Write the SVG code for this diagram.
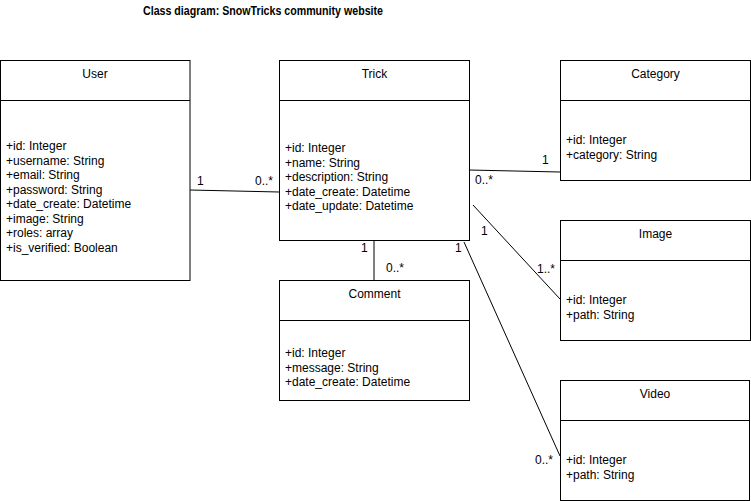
<svg xmlns="http://www.w3.org/2000/svg" width="751" height="501" viewBox="0 0 751 501">
<style>
text{font-family:"Liberation Sans",Arial,Helvetica,sans-serif;font-size:12px;fill:#000}
.title{text-anchor:middle}
.box{fill:#fff;stroke:#000;stroke-width:1}
.conn{stroke:#000;stroke-width:1;fill:none}
.hdr{font-weight:bold}
</style>
<rect width="751" height="501" fill="#fff"/>
<text class="hdr" x="143" y="15" textLength="240" lengthAdjust="spacingAndGlyphs">Class diagram: SnowTricks community website</text>

<g id="connectors">
<line class="conn" x1="190" y1="190" x2="279" y2="192"/>
<line class="conn" x1="469" y1="170" x2="560" y2="172"/>
<line class="conn" x1="473" y1="205" x2="560" y2="299"/>
<line class="conn" x1="464" y1="242" x2="560" y2="456"/>
<line class="conn" x1="374" y1="240" x2="374" y2="280"/>
<text x="197" y="185">1</text>
<text x="255" y="185">0..*</text>
<text x="542" y="164">1</text>
<text x="475" y="184">0..*</text>
<text x="481" y="235">1</text>
<text x="537" y="273">1..*</text>
<text x="455" y="252">1</text>
<text x="535" y="464">0..*</text>
<text x="361" y="252">1</text>
<text x="386" y="272">0..*</text>
</g>

<g id="user">
<rect class="box" x="0.5" y="60.5" width="189.5" height="220"/>
<line class="conn" x1="0.5" y1="100.5" x2="190" y2="100.5"/>
<text class="title" x="95" y="78">User</text>
<text x="6" y="150">+id: Integer</text>
<text x="6" y="164.5">+username: String</text>
<text x="6" y="179">+email: String</text>
<text x="6" y="193.5">+password: String</text>
<text x="6" y="208">+date_create: Datetime</text>
<text x="6" y="222.5">+image: String</text>
<text x="6" y="237">+roles: array</text>
<text x="6" y="251.5">+is_verified: Boolean</text>
</g>

<g id="trick">
<rect class="box" x="279.5" y="60.5" width="190" height="180"/>
<line class="conn" x1="279.5" y1="100.5" x2="469.5" y2="100.5"/>
<text class="title" x="374.5" y="78">Trick</text>
<text x="285" y="152">+id: Integer</text>
<text x="285" y="166.5">+name: String</text>
<text x="285" y="181">+description: String</text>
<text x="285" y="195.5">+date_create: Datetime</text>
<text x="285" y="210">+date_update: Datetime</text>
</g>

<g id="category">
<rect class="box" x="560.5" y="60.5" width="190" height="120"/>
<line class="conn" x1="560.5" y1="100.5" x2="750.5" y2="100.5"/>
<text class="title" x="655.5" y="78">Category</text>
<text x="566" y="144">+id: Integer</text>
<text x="566" y="158.5">+category: String</text>
</g>

<g id="image">
<rect class="box" x="560.5" y="220.5" width="190" height="120"/>
<line class="conn" x1="560.5" y1="260.5" x2="750.5" y2="260.5"/>
<text class="title" x="655.5" y="238">Image</text>
<text x="566" y="304">+id: Integer</text>
<text x="566" y="318.5">+path: String</text>
</g>

<g id="comment">
<rect class="box" x="279.5" y="280.5" width="190" height="120"/>
<line class="conn" x1="279.5" y1="320.5" x2="469.5" y2="320.5"/>
<text class="title" x="374.5" y="298">Comment</text>
<text x="285" y="357">+id: Integer</text>
<text x="285" y="371.5">+message: String</text>
<text x="285" y="386">+date_create: Datetime</text>
</g>

<g id="video">
<rect class="box" x="560.5" y="380.5" width="189" height="120"/>
<line class="conn" x1="560.5" y1="420.5" x2="749.5" y2="420.5"/>
<text class="title" x="655" y="398">Video</text>
<text x="566" y="464">+id: Integer</text>
<text x="566" y="478.5">+path: String</text>
</g>
</svg>
